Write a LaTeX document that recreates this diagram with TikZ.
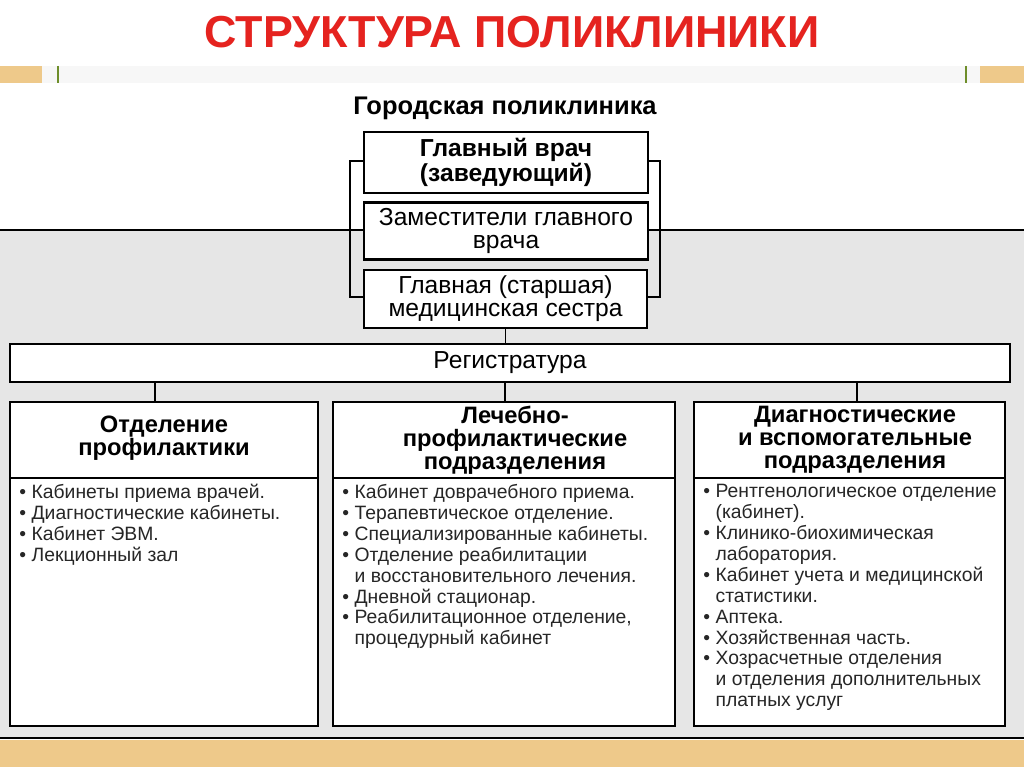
\documentclass[tikz,border=0pt]{standalone}
\usepackage{fontspec}
\setmainfont{Liberation Sans}
\definecolor{tan}{HTML}{EEC98A}
\definecolor{ttl}{HTML}{E5231F}
\definecolor{gbg}{HTML}{E6E6E6}
\definecolor{grn}{HTML}{6E8E2A}
\begin{document}
\begin{tikzpicture}[x=0.02cm,y=-0.02cm,
  bx/.style={draw,line width=1.3pt,fill=white},
  ln/.style={line width=1.1pt},
  hd/.style={font=\fontsize{13.5}{13}\selectfont\bfseries,align=center},
  bt/.style={font=\fontsize{14}{13}\selectfont,align=center},
  ls/.style={font=\fontsize{11}{11.9}\selectfont,align=left,anchor=north west,inner sep=0pt,text=black!85}]
\useasboundingbox (0,0) rectangle (1024,767);
\fill[white] (0,0) rectangle (1024,767);
% top strip
\fill[black!3] (42,66) rectangle (980,83);
\fill[tan] (0,66) rectangle (42,83);
\fill[tan] (980,66) rectangle (1024,83);
\draw[grn,line width=1pt] (58,66) -- (58,83);
\draw[grn,line width=1pt] (966,66) -- (966,83);
\node[font=\fontsize{25.5}{25.5}\selectfont\bfseries,text=ttl] (title) at (512,32) {СТРУКТУРА ПОЛИКЛИНИКИ};
% gray region
\fill[gbg] (0,230) rectangle (1024,738);
\draw[line width=1pt] (0,230) -- (1024,230);
\draw[line width=1.2pt] (0,738) -- (1024,738);
\fill[tan] (0,740) rectangle (1024,767);
\node[font=\fontsize{14.5}{14.5}\selectfont\bfseries] (city) at (505,108) {Городская поликлиника};
% brackets
\draw[ln] (364,161) -- (350,161) -- (350,297) -- (364,297);
\draw[ln] (648,161) -- (660,161) -- (660,297) -- (647,297);
\node[bx,minimum width=284*0.02cm,minimum height=57*0.02cm,bt,font=\fontsize{14}{13}\selectfont\bfseries] (chief) at (506,162.5) {Главный врач\\(заведующий)};
\node[bx,minimum width=284*0.02cm,minimum height=56*0.02cm,bt] (dep) at (506,231) {Заместители главного\\врача};
\node[bx,minimum width=283*0.02cm,minimum height=58*0.02cm,bt] (nurse) at (505.5,299) {Главная (старшая)\\медицинская сестра};
\node[bx,minimum width=1000*0.02cm,minimum height=38*0.02cm,bt] (reg) at (510,363) {Регистратура};
\draw[ln] (nurse.south) -- (nurse.south |- reg.north);
% columns
\coordinate (c1) at (155,402);
\coordinate (c2) at (505,402);
\coordinate (c3) at (857,402);
\draw[ln] (155,382) -- (c1);
\draw[ln] (505,382) -- (c2);
\draw[ln] (857,382) -- (c3);
\draw[bx] (10,402) rectangle (318,726);
\draw[ln] (10,478) -- (318,478);
\draw[bx] (333,402) rectangle (675,726);
\draw[ln] (333,478) -- (675,478);
\draw[bx] (694,402) rectangle (1005,726);
\draw[ln] (694,478) -- (1005,478);
\node[hd] (h1) at (164,438) {Отделение\\профилактики};
\node[hd] (h2) at (515,440) {Лечебно-\\профилактические\\подразделения};
\node[hd] (h3) at (855,440) {Диагностические\\и вспомогательные\\подразделения};
\def\b{\makebox[7pt][l]{•}}
\def\n{\hspace*{7pt}}
\node[ls] (l1) at (19,484) {\b Кабинеты приема врачей.\\\b Диагностические кабинеты.\\\b Кабинет ЭВМ.\\\b Лекционный зал};
\node[ls] (l2) at (342,484) {\b Кабинет доврачебного приема.\\\b Терапевтическое отделение.\\\b Специализированные кабинеты.\\\b Отделение реабилитации\\\n и восстановительного лечения.\\\b Дневной стационар.\\\b Реабилитационное отделение,\\\n процедурный кабинет};
\node[ls] (l3) at (703,484) {\b Рентгенологическое отделение\\\n(кабинет).\\\b Клинико-биохимическая\\\n лаборатория.\\\b Кабинет учета и медицинской\\\n статистики.\\\b Аптека.\\\b Хозяйственная часть.\\\b Хозрасчетные отделения\\\n и отделения дополнительных\\\n платных услуг};
\end{tikzpicture}
\end{document}
